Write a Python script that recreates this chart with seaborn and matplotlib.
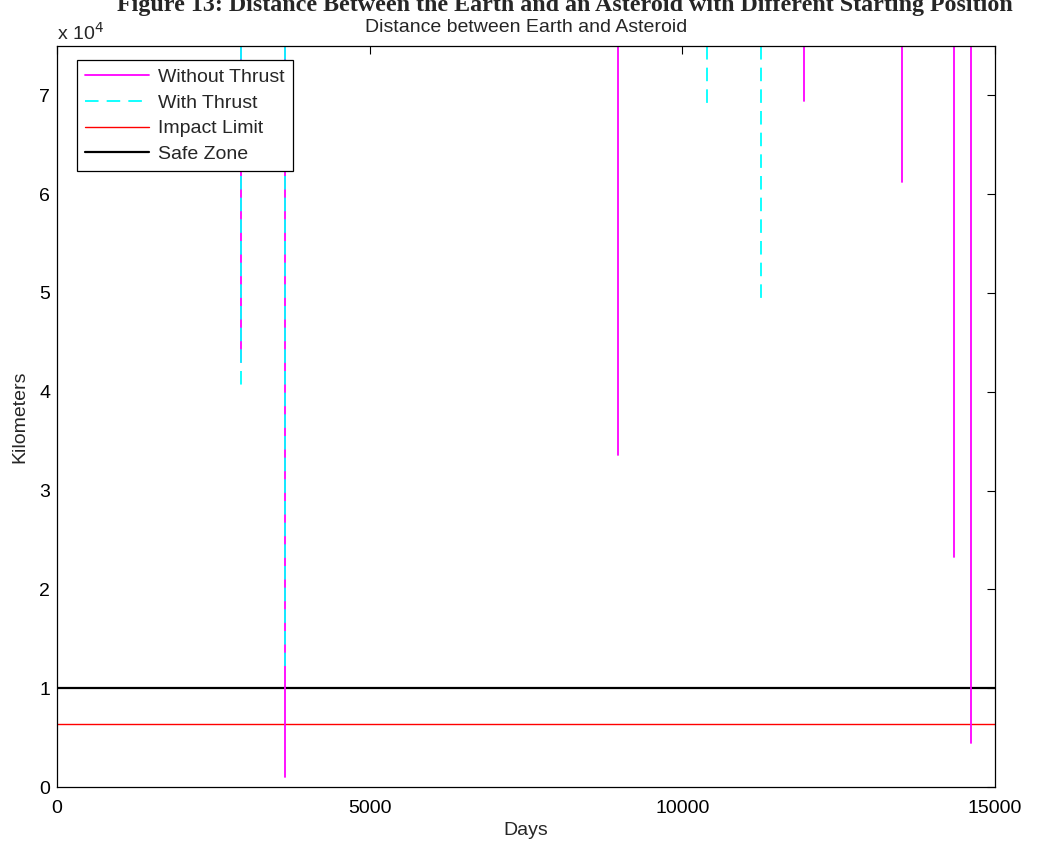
import numpy as np
import pandas as pd
import matplotlib
matplotlib.use("Agg")
import matplotlib.pyplot as plt
import seaborn as sns

sns.set_style("white")
plt.rcParams['font.family'] = ['Liberation Sans', 'DejaVu Sans']

# close approaches: day of encounter and minimum distance (km)
no_thrust_days = [2938, 3651, 8977, 11946, 13513, 14345, 14617]
no_thrust_min = [43000, 1000, 33600, 69400, 61200, 23300, 4500]
thrust_days = [2938, 3651, 10400, 11254]
thrust_min = [40500, 12200, 68600, 49000]
top_km = 75000  # lines run up to the top of the plot

impact_limit = 6378
safe_zone = 10000
day_span = [0, 15000]


def events(days, mins):
    rows = []
    for i, (d, m) in enumerate(zip(days, mins)):
        rows.append({'event': i, 'day': d, 'km': top_km})
        rows.append({'event': i, 'day': d, 'km': m})
    return pd.DataFrame(rows)


df_no = events(no_thrust_days, no_thrust_min)
df_th = events(thrust_days, thrust_min)
df_imp = pd.DataFrame({'day': day_span, 'km': [impact_limit] * 2})
df_safe = pd.DataFrame({'day': day_span, 'km': [safe_zone] * 2})

fig = plt.figure(figsize=(10.37, 8.46), dpi=100)
ax = fig.add_axes([0.055, 0.0697, 0.9045, 0.876])

sns.lineplot(data=df_imp, x='day', y='km', color='#ff0000', lw=1.0, ax=ax, label='Impact Limit')
sns.lineplot(data=df_safe, x='day', y='km', color='black', lw=1.6, ax=ax, label='Safe Zone')
sns.lineplot(data=df_no, x='day', y='km', units='event', estimator=None, sort=False,
             color='#ff00ff', lw=1.3, ax=ax, label='Without Thrust')
sns.lineplot(data=df_th, x='day', y='km', units='event', estimator=None, sort=False,
             color='#00ffff', lw=1.3, linestyle=(0, (7.5, 4.5)), ax=ax, label='With Thrust')

ax.set_xlim(0, 15000)
ax.set_ylim(0, 75000)
ax.set_xticks([0, 5000, 10000, 15000])
ax.set_xticklabels(['0', '5000', '10000', '15000'])
ax.set_yticks(np.arange(0, 80000, 10000))
ax.set_yticklabels([str(i) for i in range(8)])
ax.tick_params(direction='in', length=6, width=0.8, top=True, right=True,
               labelsize=14, colors='black', pad=5)
ax.tick_params(axis='x', pad=9)
for sp in ax.spines.values():
    sp.set_color('black')
    sp.set_linewidth(0.9)

ax.set_xlabel('Days', fontsize=14, labelpad=4)
ax.set_ylabel('Kilometers', fontsize=14, labelpad=8)
ax.set_title('Distance between Earth and Asteroid', fontsize=14, pad=10)
ax.text(0.0, 1.003, r'x 10$^4$', transform=ax.transAxes, fontsize=14, ha='left', va='bottom')

# legend in the order of the original figure
handles, labels = ax.get_legend_handles_labels()
seen = {}
for h, l in zip(handles, labels):
    seen.setdefault(l, h)
order = ['Without Thrust', 'With Thrust', 'Impact Limit', 'Safe Zone']
leg = ax.legend([seen[k] for k in order], order, loc='upper left',
                bbox_to_anchor=(0.021, 0.981), borderaxespad=0, fontsize=14,
                handlelength=3.3, labelspacing=0.42, fancybox=False,
                framealpha=1, edgecolor='black', borderpad=0.42, handletextpad=0.45)
leg.get_frame().set_linewidth(0.9)

# page caption, cut off at the top edge of the image as in the source
fig.text(0.545, 1 - 11 / 846, 'Figure 13: Distance Between the Earth and an Asteroid with Different Starting Position',
         ha='center', va='baseline', fontsize=17.3, fontweight='bold', family='Liberation Serif')

fig.savefig('out.png', dpi=100)
